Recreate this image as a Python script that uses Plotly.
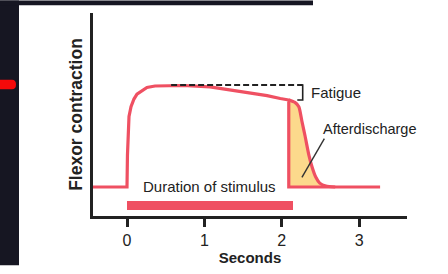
import plotly.graph_objects as go

# ---- data (time in seconds, contraction in arbitrary units) ----
time_main = [-0.44, 0.0, 0.006, 0.013, 0.026, 0.052, 0.09, 0.129, 0.194, 0.258, 0.362,
             0.556, 0.724, 1.072, 1.37, 1.59, 1.81, 1.98, 2.09, 2.09, 3.27]
flexor_main = [3.0, 3.0, 6.3, 8.8, 10.3, 11.3, 12.1, 12.6, 13.0, 13.3, 13.45,
               13.5, 13.5, 13.35, 13.0, 12.7, 12.45, 12.15, 12.0, 3.0, 3.0]

time_after = [2.09, 2.17, 2.22, 2.26, 2.30, 2.35, 2.39, 2.44, 2.49, 2.57, 2.69]
flexor_after = [12.0, 11.75, 11.3, 9.8, 8.3, 6.3, 5.1, 4.0, 3.4, 3.1, 3.0]

stimulus_start = 0.0
stimulus_end = 2.14
stimulus_level = 1.1

fatigue_time = [0.57, 2.27]
fatigue_peak = 13.55
fatigue_low = 12.0
fatigue_tick_time = 2.20

pointer_time = [2.55, 2.26]
pointer_level = [8.0, 4.0]

tick_vals = [0, 1, 2, 3]
tick_text = ["0", "1", "2", "3"]

RED = "#ef5062"
YELLOW = "#fcd98c"
INK = "#222222"
DARK = "#161622"
NARROW = "Liberation Sans Narrow, Arial Narrow, Liberation Sans, Arial, sans-serif"
WIDE = "Liberation Sans, Arial, sans-serif"

W, H = 448, 274
L, R, T, B = 93, 41, 13, 51
PW, PH = W - L - R, H - T - B


def px_x(p):
    return (p - L) / PW


def px_y(p):
    return (H - B - p) / PH


fig = go.Figure()

# afterdischarge fill
fig.add_trace(go.Scatter(
    x=time_after + [time_after[0]], y=flexor_after + [flexor_main[-1]],
    fill="toself", fillcolor=YELLOW, mode="lines", line=dict(width=0),
    hoverinfo="skip", showlegend=False))

# stimulus bar
fig.add_trace(go.Bar(
    x=[stimulus_end - stimulus_start], y=[stimulus_level], base=[stimulus_start],
    orientation="h", width=1.0, marker=dict(color=RED, line=dict(width=0)),
    showlegend=False, hoverinfo="skip"))

# main contraction curve
fig.add_trace(go.Scatter(
    x=time_main, y=flexor_main, mode="lines",
    line=dict(color=RED, width=3.2), showlegend=False, hoverinfo="skip"))

# afterdischarge curve
fig.add_trace(go.Scatter(
    x=time_after, y=flexor_after, mode="lines",
    line=dict(color=RED, width=3.2, shape="spline", smoothing=0.6),
    showlegend=False, hoverinfo="skip"))

# fatigue dashed reference
fig.add_trace(go.Scatter(
    x=fatigue_time, y=[fatigue_peak, fatigue_peak], mode="lines",
    line=dict(color=INK, width=1.8, dash="6px,3px"), showlegend=False, hoverinfo="skip"))
# fatigue bracket
fig.add_trace(go.Scatter(
    x=[fatigue_time[1] - 0.03, fatigue_time[1], fatigue_time[1], fatigue_tick_time],
    y=[fatigue_peak, fatigue_peak, fatigue_low, fatigue_low], mode="lines",
    line=dict(color=INK, width=1.6), showlegend=False, hoverinfo="skip"))

# afterdischarge pointer
fig.add_trace(go.Scatter(
    x=pointer_time, y=pointer_level, mode="lines",
    line=dict(color="#333333", width=1.4), showlegend=False, hoverinfo="skip"))

annotations = [
    dict(x=2.35, y=12.75, text="Fatigue", xanchor="left", yanchor="middle",
         showarrow=False, font=dict(family=NARROW, size=15, color=INK)),
    dict(x=2.50, y=8.95, text="Afterdischarge", xanchor="left", yanchor="middle",
         showarrow=False, font=dict(family=NARROW, size=14.5, color=INK)),
    dict(x=1.07, y=3.05, text="Duration of stimulus", xanchor="center", yanchor="middle",
         showarrow=False, font=dict(family=NARROW, size=15, color=INK)),
]

# red brush mark with rounded right end (paper coords)
bx0, bx1, by0, by1 = px_x(0), px_x(16), px_y(92), px_y(82)
bxr = px_x(12)
brush_path = (f"M {bx0} {by0} L {bxr} {by0} Q {bx1} {by0} {bx1} {(by0 + by1) / 2} "
              f"Q {bx1} {by1} {bxr} {by1} L {bx0} {by1} Z")

shapes = [
    # slide background pieces
    dict(type="rect", xref="paper", yref="paper", x0=px_x(0), x1=px_x(19),
         y0=px_y(H), y1=px_y(0), fillcolor=DARK, line=dict(width=0), layer="below"),
    dict(type="rect", xref="paper", yref="paper", x0=px_x(0), x1=px_x(313),
         y0=px_y(5), y1=px_y(0), fillcolor=DARK, line=dict(width=0), layer="below"),
    dict(type="path", xref="paper", yref="paper", path=brush_path,
         fillcolor="#f50a0a", line=dict(width=0), layer="below"),
]

fig.update_layout(
    width=W, height=H,
    margin=dict(l=L, r=R, t=T, b=B, pad=0),
    paper_bgcolor="white", plot_bgcolor="white",
    bargap=0,
    xaxis=dict(range=[(93 - 127) / 77.4, (407 - 127) / 77.4], showgrid=False, zeroline=False,
               showline=True, linecolor=INK, linewidth=2.6,
               tickmode="array", tickvals=tick_vals, ticktext=tick_text,
               ticks="outside", ticklen=8, tickwidth=2.6, tickcolor=INK,
               tickfont=dict(family=NARROW, size=16, color=INK),
               title=dict(text="<b>Seconds</b>", standoff=2,
                          font=dict(family=NARROW, size=15, color=INK))),
    yaxis=dict(range=[0, 21], showgrid=False, zeroline=False,
               showline=True, linecolor=INK, linewidth=2.6,
               showticklabels=False, ticks="",
               title=dict(text="<b>Flexor contraction</b>", standoff=4,
                          font=dict(family=WIDE, size=17.5, color=INK))),
    annotations=annotations,
    shapes=shapes,
)

fig.write_html("out.html", config={"displayModeBar": False},
               post_script="document.body.style.margin='0';document.body.style.overflow='hidden';")
